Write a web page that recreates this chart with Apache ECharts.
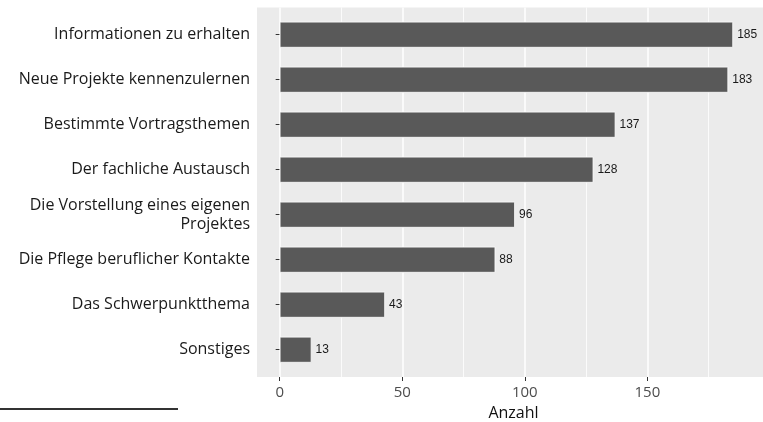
<!DOCTYPE html>
<html>
<head>
<meta charset="utf-8">
<script src="https://cdn.jsdelivr.net/npm/echarts@6/dist/echarts.min.js"></script>
<style>
  html, body { margin: 0; padding: 0; background: #fff; }
  #chart { width: 763px; height: 422px; }
</style>
</head>
<body>
<div id="chart"></div>
<script>
// data
const categories = [
  'Informationen zu erhalten',
  'Neue Projekte kennenzulernen',
  'Bestimmte Vortragsthemen',
  'Der fachliche Austausch',
  'Die Vorstellung eines eigenen\nProjektes',
  'Die Pflege beruflicher Kontakte',
  'Das Schwerpunktthema',
  'Sonstiges'
];
const counts = [185, 183, 137, 128, 96, 88, 43, 13];
const xTicks = [0, 50, 100, 150];

const labelFont = 'Open Sans';
const chart = echarts.init(document.getElementById('chart'));

// panel runs past the right edge of the picture (it was cropped)
const option = {
  animation: false,
  grid: [
    // panel background
    { left: 257, width: 513, top: 7.5, bottom: 45, show: true, backgroundColor: '#EBEBEB', borderWidth: 0, outerBoundsMode: 'none' },
    // x scale / grid lines
    { left: 279.7, width: 490.2, top: 7.5, bottom: 45, outerBoundsMode: 'none' },
    // bars
    { left: 257, width: 512.9, top: 12.2, bottom: 49.8, outerBoundsMode: 'none' }
  ],
  xAxis: [
    {
      gridIndex: 0, type: 'value', min: 0, max: 1,
      axisLine: { show: false }, axisTick: { show: false },
      axisLabel: { show: false }, splitLine: { show: false },
      name: 'Anzahl', nameLocation: 'middle', nameGap: 28,
      nameTextStyle: { fontFamily: labelFont, fontSize: 16, color: '#111' }
    },
    {
      gridIndex: 1, type: 'value', min: 0, max: 200, interval: 50,
      axisLine: { show: false },
      axisTick: { show: true, length: 4, lineStyle: { color: '#333', width: 1 } },
      axisLabel: {
        showMaxLabel: false, margin: 8,
        fontFamily: labelFont, fontSize: 15, color: '#4D4D4D',
        formatter: v => xTicks.includes(v) ? String(v) : ''
      },
      splitLine: { show: true, lineStyle: { color: '#fff', width: 1.5 } },
      minorTick: { show: false, splitNumber: 2 },
      minorSplitLine: { show: true, lineStyle: { color: '#fff', width: 0.8 } }
    },
    {
      gridIndex: 2, type: 'value', min: -9.25, max: 200, show: false
    }
  ],
  yAxis: [
    { gridIndex: 0, type: 'value', show: false },
    { gridIndex: 1, type: 'value', show: false },
    {
      gridIndex: 2, type: 'category', inverse: true, data: categories,
      axisLine: { show: false },
      axisTick: { show: true, alignWithLabel: true, length: 4, lineStyle: { color: '#333', width: 1 } },
      axisLabel: {
        margin: 7, fontFamily: labelFont, fontSize: 16, color: '#1a1a1a',
        lineHeight: 19, align: 'right', padding: [3, 0, 0, 0]
      },
      splitLine: { show: false }
    }
  ],
  series: [
    {
      type: 'bar',
      xAxisIndex: 2, yAxisIndex: 2,
      data: counts,
      barWidth: 26,
      itemStyle: { color: '#595959', borderColor: '#fff', borderWidth: 0.8 },
      label: {
        show: true, position: 'right', distance: 4,
        fontFamily: 'Liberation Sans', fontSize: 12, color: '#1a1a1a'
      }
    }
  ],
  graphic: [
    {
      type: 'line',
      shape: { x1: 0, y1: 409, x2: 178, y2: 409 },
      style: { stroke: '#333', lineWidth: 2 }
    }
  ]
};

chart.setOption(option);
</script>
</body>
</html>
